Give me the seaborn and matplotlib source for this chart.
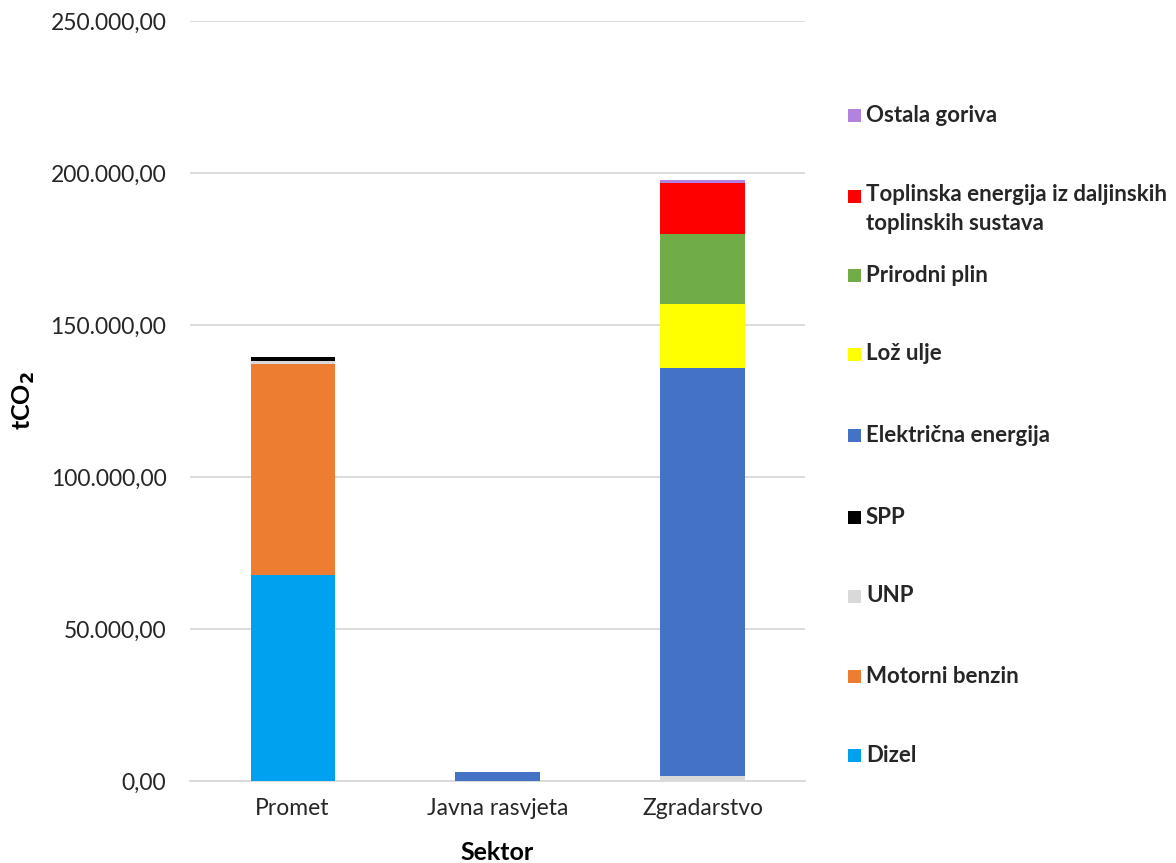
import numpy as np
import pandas as pd
import matplotlib
matplotlib.use("Agg")
import matplotlib.pyplot as plt
import seaborn as sns
from matplotlib.ticker import FuncFormatter
from matplotlib.patches import Rectangle

sektori = ["Promet", "Javna rasvjeta", "Zgradarstvo"]
goriva = ["Dizel", "Motorni benzin", "UNP", "SPP", "Električna energija",
          "Lož ulje", "Prirodni plin",
          "Toplinska energija iz daljinskih\ntoplinskih sustava", "Ostala goriva"]
boje = ["#00A2F0", "#ED7D31", "#D9D9D9", "#000000", "#4472C4",
        "#FFFF00", "#70AD47", "#FF0000", "#B283DE"]

dizel = [67800, 0, 0]
motorni_benzin = [69400, 0, 0]
unp = [1100, 0, 1700]
spp = [1300, 0, 0]
elektricna = [0, 2900, 134200]
loz_ulje = [0, 0, 21000]
prirodni_plin = [0, 0, 23000]
toplinska = [0, 0, 16700]
ostala = [0, 0, 1100]

serije = [dizel, motorni_benzin, unp, spp, elektricna, loz_ulje,
          prirodni_plin, toplinska, ostala]

sns.set_theme(style="white")
plt.rcParams['font.family'] = ['Lato', 'DejaVu Sans']

fig = plt.figure(figsize=(11.76, 8.63), dpi=100)
ax = fig.add_axes([0.1616, 0.095, 0.5229, 0.8807])

x = np.arange(len(sektori))
bottom = np.zeros(len(sektori))
for vals, col in zip(serije, boje):
    v = np.array(vals, dtype=float)
    ax.bar(x, v, bottom=bottom, width=0.41, color=col, edgecolor="none", zorder=3)
    bottom += v

ax.set_xlim(-0.5, 2.5)
ax.set_ylim(0, 250000)
ax.set_yticks(np.arange(0, 250001, 50000))
ax.yaxis.set_major_formatter(FuncFormatter(
    lambda v, p: f"{v:,.2f}".replace(",", "X").replace(".", ",").replace("X", ".")))
ax.set_xticks(x)
ax.set_xticklabels(sektori)
ax.tick_params(axis="both", length=0, labelsize=16.5, colors="#262626")
ax.tick_params(axis="y", pad=17)
ax.tick_params(axis="x", pad=12)
ax.grid(axis="y", color="#D9D9D9", linewidth=1.3, zorder=0)
for s in ["top", "right", "left"]:
    ax.spines[s].set_visible(False)
ax.spines["bottom"].set_color("#D9D9D9")
ax.spines["bottom"].set_linewidth(1.3)

ax.set_xlabel("Sektor", fontsize=18, fontweight="bold", color="black", labelpad=16)
ax.set_ylabel("tCO$_\\mathbf{2}$", fontsize=18, fontweight="bold", color="black", labelpad=10)

# legend (manual, reversed order)
W, H = 1176, 863
ypos = [755, 676, 596, 517, 435, 354, 275, 196, 115]
for lab, col, yp in zip(goriva, boje, ypos):
    fig.patches.append(Rectangle((848 / W, 1 - (yp + 7) / H), 13 / W, 13 / H,
                                 transform=fig.transFigure, facecolor=col,
                                 edgecolor="none"))
    if "\n" in lab:
        fig.text(866 / W, 1 - (yp - 12) / H, lab, fontsize=16, fontweight="bold",
                 va="top", ha="left", linespacing=1.5)
    else:
        fig.text(866 / W, 1 - yp / H, lab, fontsize=16, fontweight="bold",
                 va="center", ha="left")

fig.savefig("out.png", dpi=100)
